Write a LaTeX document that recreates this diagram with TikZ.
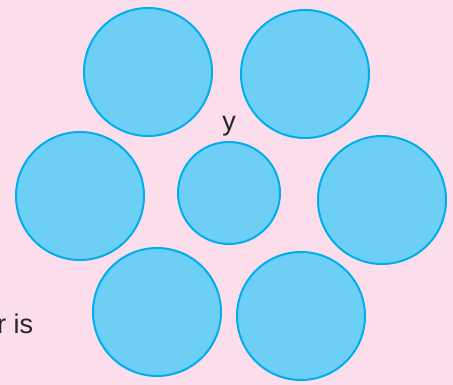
\documentclass[tikz,border=0pt]{standalone}
\usepackage{fontspec}
\setmainfont{Liberation Sans}
\definecolor{bgpink}{HTML}{FCDDEB}
\definecolor{ballfill}{HTML}{6DCFF6}
\definecolor{ballline}{HTML}{00AEEF}
\tikzset{
  ball/.style={circle, fill=ballfill, draw=ballline, line width=2pt, inner sep=0pt, minimum size=#1},
  ball/.default=128pt,
  lbl/.style={font=\fontsize{27}{30}\selectfont, text=black!85, inner sep=0pt}
}
\begin{document}
\begin{tikzpicture}[x=1pt,y=-1pt]
\fill[bgpink] (0,0) rectangle (453,385);
\useasboundingbox (0,0) rectangle (453,385);
\node[ball] (tl) at (148,72) {};
\node[ball] (tr) at (305,74) {};
\node[ball] (ml) at (80,196) {};
\node[ball=102pt] (mid) at (229,193) {};
\node[ball] (mr) at (382,200) {};
\node[ball] (bl) at (157,312) {};
\node[ball] (br) at (301,316) {};
\node[lbl, anchor=base] (ylbl) at (229,131) {y};
\node[lbl, anchor=base west] (rlbl) at (-3,333) {r is};
\end{tikzpicture}
\end{document}
